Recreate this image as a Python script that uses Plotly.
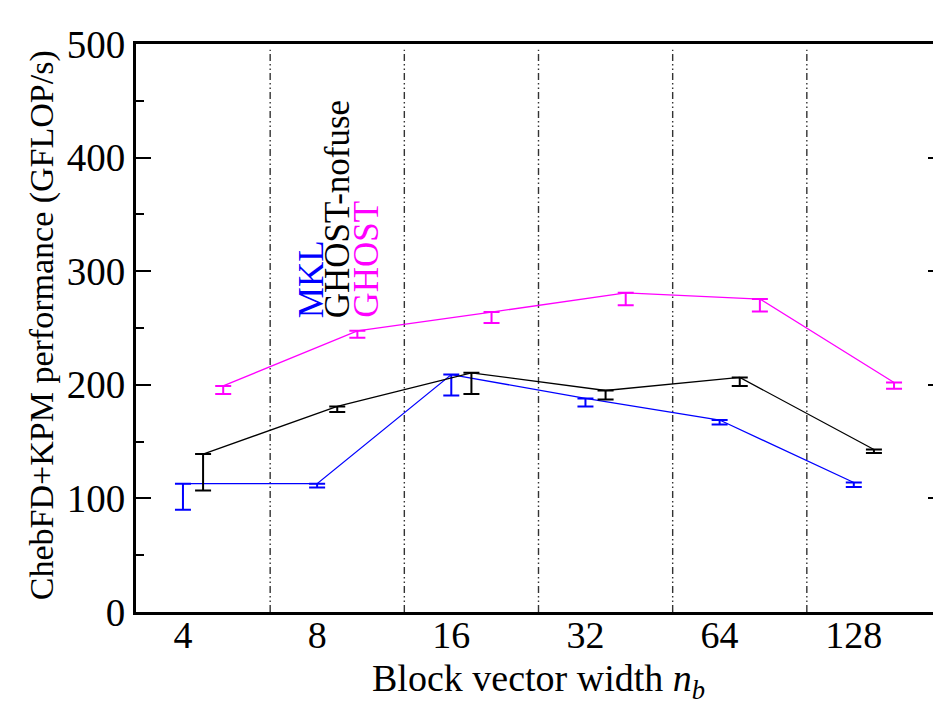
import plotly.graph_objects as go

categories = ["4", "8", "16", "32", "64", "128"]
series_names = ["MKL", "GHOST-nofuse", "GHOST"]
series_colors = ["#0000ff", "#000000", "#ff00ff"]
series_offsets = [0.35, 0.5, 0.65]

mkl_max = [113, 113, 209, 188, 169, 114]
mkl_min = [90, 109.5, 190.5, 181, 165, 110]
nofuse_max = [139, 181, 210.5, 195, 206.5, 143]
nofuse_min = [107, 176, 192, 187, 199, 140]
ghost_max = [199, 247.5, 264, 281, 275.5, 202]
ghost_min = [192, 241.5, 254.5, 270, 264.5, 196.5]

y_ticks = [0, 100, 200, 300, 400, 500]

FONT = "Liberation Serif"

fig = go.Figure()

series = [(mkl_max, mkl_min), (nofuse_max, nofuse_min), (ghost_max, ghost_min)]
for (ymax, ymin), name, color, off in zip(series, series_names, series_colors, series_offsets):
    xs = [i + off for i in range(len(categories))]
    fig.add_trace(go.Scatter(
        x=xs, y=ymax, mode="lines", name=name,
        line=dict(color=color, width=1.3),
        error_y=dict(type="data", symmetric=False,
                     array=[0] * len(ymax),
                     arrayminus=[a - b for a, b in zip(ymax, ymin)],
                     color=color, thickness=2, width=8),
        showlegend=False,
    ))

# vertical separators between categories
for k in range(1, len(categories)):
    fig.add_shape(type="line", xref="x", yref="y", x0=k, x1=k, y0=0, y1=495,
                  line=dict(color="#333333", width=1.4, dash="7px,3px,1.5px,3px,1.5px,3px"),
                  layer="below")

# page has an 8px body margin: compensate so the plot lands where the reference has it
PLOT_H = 568
fig.update_layout(
    width=933, height=696,
    margin=dict(l=128, r=0, t=36, b=92, autoexpand=False),
    plot_bgcolor="white", paper_bgcolor="white",
    font=dict(family=FONT, color="black"),
    xaxis=dict(
        range=[0, 6], automargin=False,
        tickmode="array",
        tickvals=[i + series_offsets[0] for i in range(len(categories))],
        ticktext=categories,
        ticks="", showgrid=False, zeroline=False,
        showline=True, linecolor="black", linewidth=3, mirror=True,
        ticklabelstandoff=-13,
        tickfont=dict(family=FONT, size=38, color="black"),
    ),
    yaxis=dict(
        range=[0, 500], automargin=False,
        tickvals=y_ticks,
        ticks="inside", ticklen=15, tickwidth=1.5, tickcolor="black",
        minor=dict(dtick=50, ticks="inside", ticklen=8, tickwidth=1.5, tickcolor="black"),
        showgrid=False, zeroline=False,
        showline=True, linecolor="black", linewidth=3, mirror=False,
        tickfont=dict(family=FONT, size=39, color="black"),
    ),
    yaxis2=dict(
        range=[0, 500], overlaying="y", side="right", automargin=False,
        tickvals=y_ticks, showticklabels=False,
        ticks="inside", ticklen=13, tickwidth=1.5, tickcolor="black",
        minor=dict(dtick=50, ticks="inside", ticklen=5, tickwidth=1.5, tickcolor="black"),
        showgrid=False, zeroline=False, showline=False,
    ),
)

# dummy trace to activate yaxis2
fig.add_trace(go.Scatter(x=[0], y=[0], yaxis="y2", mode="markers",
                         marker=dict(opacity=0), showlegend=False, hoverinfo="skip"))

# axis titles
fig.add_annotation(text="Block vector width <i>n</i><sub><i>b</i></sub>",
                   xref="paper", yref="paper", x=0.5, y=-69 / PLOT_H,
                   xanchor="center", yanchor="middle", showarrow=False,
                   font=dict(family=FONT, size=38, color="black"))
fig.add_annotation(text="ChebFD+KPM performance (GFLOP/s)",
                   xref="paper", yref="paper", x=-94 / 805, y=0.505, textangle=-90,
                   xanchor="center", yanchor="middle", showarrow=False,
                   font=dict(family=FONT, size=34, color="black"))

# in-plot legend labels (rotated)
legend_x = [1.305, 1.50, 1.715]
for name, color, lx in zip(series_names, series_colors, legend_x):
    fig.add_annotation(text=name, xref="x", yref="y", x=lx, y=257,
                       textangle=-90, xanchor="center", yanchor="bottom",
                       showarrow=False,
                       font=dict(family=FONT, size=35, color=color))

fig.write_html("out.html")
